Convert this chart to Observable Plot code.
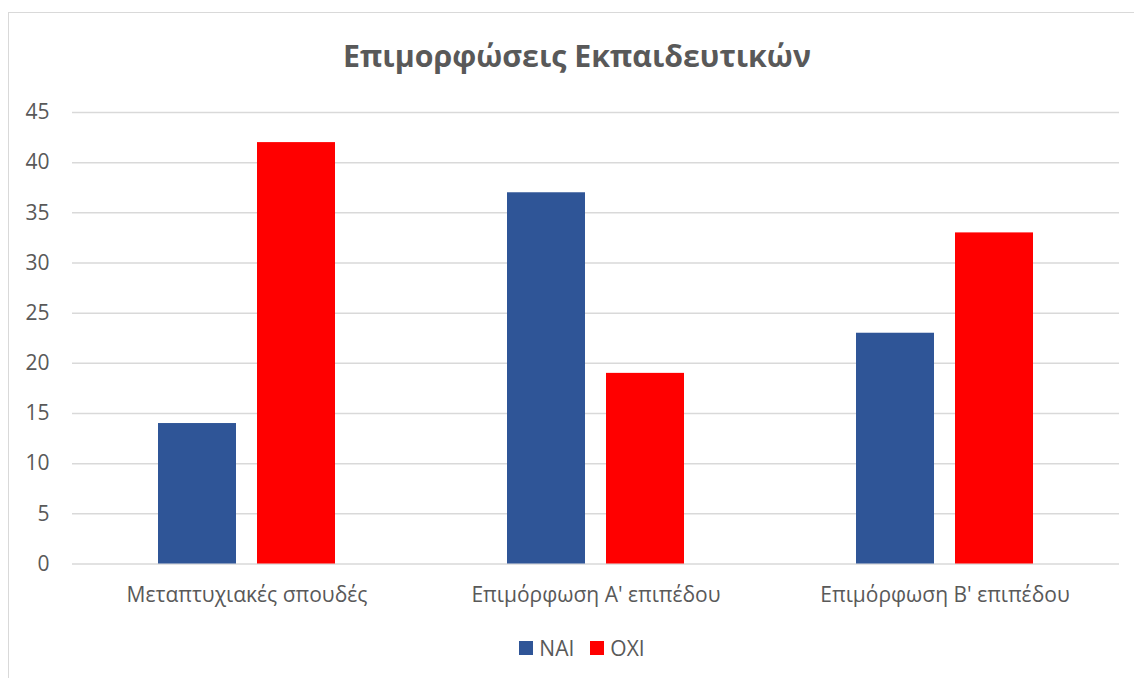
<!DOCTYPE html>
<html>
<head>
<meta charset="utf-8">
<script src="https://cdn.jsdelivr.net/npm/d3@7"></script>
<script src="https://cdn.jsdelivr.net/npm/@observablehq/plot@0.6"></script>
<style>
  body { margin: 0; background: #fff; width: 1134px; height: 678px; overflow: hidden; position: relative; font-family: "Open Sans", "Noto Sans", sans-serif; }
  #frame { position: absolute; left: 8px; top: 12px; width: 1200px; height: 800px; border: 1.5px solid #d9d9d9; box-sizing: border-box; }
  #title { position: absolute; left: 0; top: 38px; width: 1154px; text-align: center; font-weight: 700; font-size: 30.3px; color: #595959; line-height: 1.2; }
  #chart { position: absolute; left: 0; top: 80px; }
  #legend { position: absolute; left: 0; top: 635px; width: 1164px; display: flex; justify-content: center; gap: 16px; font-size: 21px; color: #595959; line-height: 26px; }
  #legend span.item { display: flex; align-items: center; gap: 6px; }
  #legend span.sw { display: inline-block; width: 14px; height: 14px; }
</style>
</head>
<body>
<div id="frame"></div>
<div id="title">Επιμορφώσεις Εκπαιδευτικών</div>
<div id="chart"></div>
<div id="legend"></div>
<script>
const categories = ["Μεταπτυχιακές σπουδές", "Επιμόρφωση Α' επιπέδου", "Επιμόρφωση Β' επιπέδου"];
const seriesNames = ["NAI", "OXI"];
const naiValues = [14, 37, 23];
const oxiValues = [42, 19, 33];
const seriesColors = ["#2F5597", "#FF0000"];
const yTicks = [0, 5, 10, 15, 20, 25, 30, 35, 40, 45];

const data = [];
categories.forEach((c, i) => {
  data.push({category: c, series: seriesNames[0], value: naiValues[i]});
  data.push({category: c, series: seriesNames[1], value: oxiValues[i]});
});

const chart = Plot.plot({
  width: 1134,
  height: 540,
  marginLeft: 72,
  marginRight: 15,
  marginTop: 32,
  marginBottom: 56.5,
  style: {fontFamily: "'Open Sans', 'Noto Sans', sans-serif", fontSize: "21px", color: "#595959", background: "transparent"},
  fx: {domain: categories, padding: 0, label: null},
  x: {domain: seriesNames, paddingInner: 0.212, paddingOuter: 0.864, axis: null},
  y: {domain: [0, 45], ticks: yTicks, label: null},
  color: {domain: seriesNames, range: seriesColors},
  marks: [
    Plot.ruleY(yTicks, {stroke: "#d9d9d9", strokeWidth: 1.5}),
    Plot.axisY({ticks: yTicks, tickSize: 0, tickPadding: 23, label: null, fill: "#595959", fontSize: 21}),
    Plot.axisFx({anchor: "bottom", tickSize: 0, tickPadding: 23, label: null, fill: "#595959", fontSize: 21}),
    Plot.barY(data, {fx: "category", x: "series", y: "value", fill: "series"})
  ]
});
document.getElementById("chart").appendChild(chart);

const legend = document.getElementById("legend");
seriesNames.forEach((s, i) => {
  const item = document.createElement("span");
  item.className = "item";
  const sw = document.createElement("span");
  sw.className = "sw";
  sw.style.background = seriesColors[i];
  const t = document.createElement("span");
  t.textContent = s;
  item.appendChild(sw);
  item.appendChild(t);
  legend.appendChild(item);
});
</script>
</body>
</html>
